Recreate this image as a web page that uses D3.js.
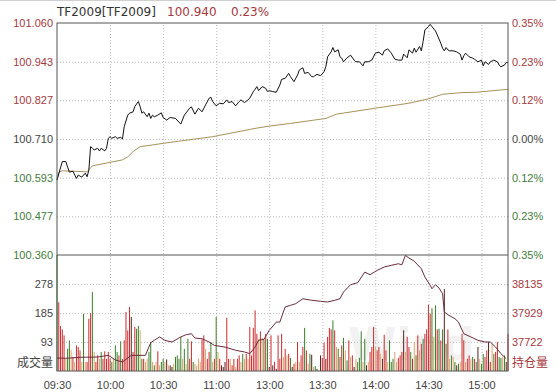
<!DOCTYPE html>
<html>
<head>
<meta charset="utf-8">
<script src="https://cdn.jsdelivr.net/npm/d3@7"></script>
<style>
  body { margin: 0; background: #fff; }
  svg { display: block; font-family: "DejaVu Sans", "Noto Sans CJK SC", sans-serif; }
  .grid line { stroke: #bbb; stroke-dasharray: 1,2; }
  .grid .domain { display: none; }
  .lbl .domain, .lbl line { display: none; }
</style>
</head>
<body>
<div id="chart"></div>
<script>
// ---- data ----
var symbol = "TF2009[TF2009]";
var lastPrice = "100.940";
var lastPct = "0.23%";
var preClose = 100.710;

var priceTicks = [101.060, 100.943, 100.827, 100.710, 100.593, 100.477, 100.360];
var pctTicks = ["0.35%", "0.23%", "0.12%", "0.00%", "0.12%", "0.23%", "0.35%"];
var volTicks = [93, 185, 278];
var oiTicks = [37722, 37929, 38135];
var timeTicks = ["09:30", "10:00", "10:30", "11:00", "13:00", "13:30", "14:00", "14:30", "15:00"];
var timeTickMin = [0, 30, 60, 90, 120, 150, 180, 210, 240];

// trading minute (from 09:30, lunch removed) and price
var priceMin = [0,3,5,6,7,9,11,12,14,16,17,18,19,20,21,23,24,25,27,28,29,30,31,33,34,36,37,38,40,41,43,44,46,47,48,49,
  51,52,53,54,55,57,59,60,62,64,67,70,72,75,76,78,80,82,84,86,87,88,90,92,94,96,97,99,101,103,104,106,108,109,
  111,112,113,114,116,118,119,120,122,124,126,127,129,131,132,134,136,137,139,140,142,144,145,147,149,151,152,153,155,156,
  157,159,160,161,162,164,166,168,169,171,173,174,176,178,180,182,184,185,187,189,191,193,195,196,198,199,201,202,203,205,
  206,207,208,210,211,212,214,215,217,218,219,220,221,222,224,226,228,229,230,231,233,235,236,238,240,241,242,244,245,247,
  249,250,251,253,254,255];
var price = [100.586,100.642,100.642,100.625,100.610,100.613,100.591,100.601,100.595,100.607,100.596,100.616,100.687,100.682,100.677,100.682,100.674,100.682,100.674,100.682,100.712,100.717,100.712,100.717,100.712,100.715,100.710,100.747,100.782,100.788,100.792,100.808,100.823,100.808,100.788,100.792,
  100.777,100.788,100.772,100.782,100.777,100.782,100.789,100.775,100.767,100.775,100.772,100.755,100.782,100.803,100.807,100.785,100.803,100.792,100.813,100.833,100.836,100.823,100.810,100.818,100.816,100.828,100.820,100.823,100.810,100.823,100.828,100.820,100.828,100.833,
  100.853,100.860,100.868,100.856,100.868,100.863,100.853,100.856,100.853,100.851,100.873,100.890,100.893,100.908,100.898,100.883,100.903,100.918,100.925,100.908,100.911,100.898,100.898,100.905,100.901,100.913,100.928,100.958,100.973,100.986,
  100.973,100.979,100.958,100.954,100.943,100.955,100.963,100.948,100.943,100.943,100.931,100.943,100.943,100.948,100.969,100.972,100.963,100.976,100.982,100.969,100.951,100.948,100.948,100.966,100.955,100.979,100.969,100.984,100.972,100.989,
  100.976,101.004,101.039,101.049,101.056,101.049,101.036,101.024,100.999,100.984,100.976,100.986,100.979,100.976,100.976,100.973,100.966,100.948,100.961,100.969,100.958,100.954,100.951,100.943,100.948,100.931,100.943,100.935,100.943,100.948,
  100.943,100.933,100.928,100.933,100.941,100.940];

var avgMin = [0,1,3,17,20,37,40,43,47,54,60,88,112,120,132,152,158,180,199,210,218,229,237,255];
var avgPrice = [100.586,100.610,100.614,100.611,100.629,100.647,100.656,100.672,100.687,100.692,100.697,100.717,100.742,100.749,100.757,100.772,100.785,100.803,100.818,100.831,100.845,100.850,100.851,100.860];

// one bar per minute, 0..255
var volume = [371,220,144,133,114,39,71,98,66,45, 29,82,77,66,29,183,29,29,167,185,
  253,61,29,50,39,61,39,63,39,61, 39,29,39,82,61,50,95,39,98,189,
  130,205,173,61,141,135,144,130,39,39, 29,39,61,93,29,18,29,63,18,29,
  39,29,37,18,18,13,23,45,50,39, 109,39,71,23,103,39,95,29,23,18,
  39,29,101,114,71,39,61,93,29,39, 173,61,39,18,13,29,170,39,39,18,
  39,13,39,50,29,55,39,55,39,141, 50,138,194,119,103,127,106,101,119,103,
  13,114,18,29,7,114,39,119,45,71, 50,55,42,13,23,29,93,29,50,77,
  138,66,23,55,52,13,16,7,2,50, 42,91,39,109,138,133,162,130,77,71,
  45,82,106,66,34,98,45,50,13,39, 29,42,127,29,103,18,29,61,77,141,
  77,66,77,55,39,116,66,29,98,29, 39,61,29,42,50,61,130,61,109,77,
  61,39,93,50,114,66,87,103,119,133, 212,183,201,109,210,133,135,98,133,262,
  87,133,39,50,45,29,18,23,29,119, 98,29,39,50,39,45,39,29,77,39,
  23,55,45,66,93,29,87,55,61,93, 45,42,45,50,29,119];
var volKind = ("g r r r r y g g y r y r r r y g y r r r g y r r y g r r r r r g y g g r g r r r " +
  "r r k r r g g y g r y y g g y g y r y g g y k y k k y g g g g y g y g r r g y y " +
  "y y r r y r r g y r g y r k k k r r y r r y r r y g y r y r r r r r y r y g r g " +
  "k r k r k r r r y r y r g k r y r y r r g r y g k y g k y k r r k r r r g r y g " +
  "r r g y g r y r k y g g g y g k y r r r y r r y k r r y g g g y y r r r k y r r " +
  "g r y g r y r g r r r r g y g r g r g k g r y g y g k g y r r y r r y g r g k y " +
  "g g r r k r y g r r g g y g k r").split(" ");

var oiMin = [0,5,13,23,29,33,37,42,50,53,55,58,61,65,70,73,76,78,82,86,89,95,101,106,109,112,114,117,120,124,126,128,129,132,135,139,
  144,149,153,157,160,162,166,170,174,177,181,185,189,193,195,197,199,202,206,208,211,212,214,216,218,219,221,225,227,230,234,238,242,245,248,251,254];
var oi = [37608,37606,37613,37615,37627,37594,37580,37627,37627,37717,37734,37758,37734,37722,37758,37774,37781,37750,37745,37722,37698,37686,37663,37651,37639,37686,37734,37741,37805,37864,37864,37936,37971,37983,37995,38030,
  38019,38012,38007,38019,38030,38078,38130,38144,38220,38201,38232,38256,38268,38279,38272,38339,38320,38297,38244,38185,38126,38101,38130,38106,38066,37936,37916,37888,37864,37781,37758,37734,37722,37722,37686,37639,37603];

// ---- layout ----
var width = 556, height = 392;
var left = 57, right = 508;
var pTop = 23, pBot = 255, vTop = 255, vBot = 371;

var red = "#a8383c", green = "#3f7d3a", gray = "#444";
var barColor = { r: "#cc2b2b", g: "#3b7f2a", y: "#dca66a", k: "#5a2222" };

var svg = d3.select("#chart").append("svg")
  .attr("width", width)
  .attr("height", height);

svg.append("line")
  .attr("x1", 0).attr("x2", width).attr("y1", 0.5).attr("y2", 0.5)
  .style("stroke", "#d0d0d0");

// scales
var xScale = d3.scaleLinear().domain([0, 255]).range([left, right]);
var yPrice = d3.scaleLinear().domain([100.360, 101.060]).range([pBot, pTop]);
var yVol = d3.scaleLinear().domain([0, 371]).range([vBot, vTop]);
var yOI = d3.scaleLinear().domain([37515.5, 38341.5]).range([vBot, vTop]);

// watermark, kept inside the volume panel
svg.append("text")
  .attr("x", 348).attr("y", vBot - 11)
  .style("font-size", "44px").style("font-weight", "bold")
  .style("fill", "#f1f1f1")
  .text("Wind");

// grids
svg.append("g")
  .attr("class", "grid")
  .attr("transform", `translate(${left},0)`)
  .call(d3.axisLeft(yPrice).tickValues(priceTicks.slice(1, 6)).tickSize(-(right - left)).tickFormat(""));

svg.append("g")
  .attr("class", "grid")
  .attr("transform", `translate(${left},0)`)
  .call(d3.axisLeft(yVol).tickValues(volTicks).tickSize(-(right - left)).tickFormat(""));

svg.append("g")
  .attr("class", "grid")
  .attr("transform", `translate(0,${vBot})`)
  .call(d3.axisBottom(xScale).tickValues(timeTickMin.slice(1)).tickSize(-(vBot - pTop)).tickFormat(""));

// volume bars
svg.append("g")
  .selectAll("rect")
  .data(volume)
  .enter()
  .append("rect")
  .attr("x", (d, i) => xScale(i) - 0.5)
  .attr("y", d => yVol(d))
  .attr("width", 1)
  .attr("height", d => vBot - yVol(d))
  .style("fill", (d, i) => barColor[volKind[i]]);

// open interest line
var oiData = oiMin.map((m, i) => [m, oi[i]]);
svg.append("path")
  .datum(oiData)
  .attr("d", d3.line().x(d => xScale(d[0])).y(d => yOI(d[1])))
  .style("fill", "none")
  .style("stroke", "#6e2a3a")
  .style("stroke-width", 1);

// average & price lines
var avgData = avgMin.map((m, i) => [m, avgPrice[i]]);
svg.append("path")
  .datum(avgData)
  .attr("d", d3.line().x(d => xScale(d[0])).y(d => yPrice(d[1])))
  .style("fill", "none")
  .style("stroke", "#a8925a")
  .style("stroke-width", 1);

var priceData = priceMin.map((m, i) => [m, price[i]]);
svg.append("path")
  .datum(priceData)
  .attr("d", d3.line().x(d => xScale(d[0])).y(d => yPrice(d[1])))
  .style("fill", "none")
  .style("stroke", "#111")
  .style("stroke-width", 1);

// frames
svg.append("rect")
  .attr("x", left).attr("y", pTop)
  .attr("width", right - left).attr("height", vBot - pTop)
  .style("fill", "none").style("stroke", "#555");
svg.append("line")
  .attr("x1", left).attr("x2", right).attr("y1", pBot).attr("y2", pBot)
  .style("stroke", "#555");

// left price labels
svg.append("g")
  .attr("class", "lbl")
  .attr("transform", `translate(${left - 1},0)`)
  .call(d3.axisLeft(yPrice).tickValues(priceTicks).tickSize(0).tickPadding(3).tickFormat(d3.format(".3f")))
  .selectAll("text")
  .style("font-size", "11px")
  .style("fill", d => Math.abs(d - preClose) < 0.0005 ? gray : (d > preClose ? red : green));

// right pct labels
svg.append("g")
  .attr("class", "lbl")
  .attr("transform", `translate(${right + 1},0)`)
  .call(d3.axisRight(yPrice).tickValues(priceTicks).tickSize(0).tickPadding(3).tickFormat((d, i) => pctTicks[i]))
  .selectAll("text")
  .style("font-size", "11px")
  .style("fill", (d, i) => i < 3 ? red : (i == 3 ? gray : green));

// volume labels
svg.append("g")
  .attr("class", "lbl")
  .attr("transform", `translate(${left - 1},0)`)
  .call(d3.axisLeft(yVol).tickValues(volTicks).tickSize(0).tickPadding(3))
  .selectAll("text")
  .style("font-size", "11px")
  .style("fill", gray);

svg.append("g")
  .attr("class", "lbl")
  .attr("transform", `translate(${right + 1},0)`)
  .call(d3.axisRight(yOI).tickValues(oiTicks).tickSize(0).tickPadding(3).tickFormat(d3.format("d")))
  .selectAll("text")
  .style("font-size", "11px")
  .style("fill", red);

svg.append("text")
  .attr("x", left - 4).attr("y", vBot - 4)
  .attr("text-anchor", "end")
  .style("font-size", "12px").style("fill", gray)
  .text("成交量");

svg.append("text")
  .attr("x", right + 4).attr("y", vBot - 4)
  .style("font-size", "12px").style("fill", red)
  .text("持仓量");

// time labels
svg.append("g")
  .attr("class", "lbl")
  .attr("transform", `translate(0,${vBot})`)
  .call(d3.axisBottom(xScale).tickValues(timeTickMin).tickSize(0).tickPadding(10).tickFormat((d, i) => timeTicks[i]))
  .selectAll("text")
  .style("font-size", "11px")
  .style("fill", gray);

// header
var header = svg.append("text")
  .attr("x", left).attr("y", 16)
  .style("font-size", "12px");
header.append("tspan").style("fill", "#333").text(symbol);
header.append("tspan").attr("x", 167).style("fill", red).text(lastPrice);
header.append("tspan").attr("x", 231).style("fill", red).text(lastPct);
</script>
</body>
</html>
